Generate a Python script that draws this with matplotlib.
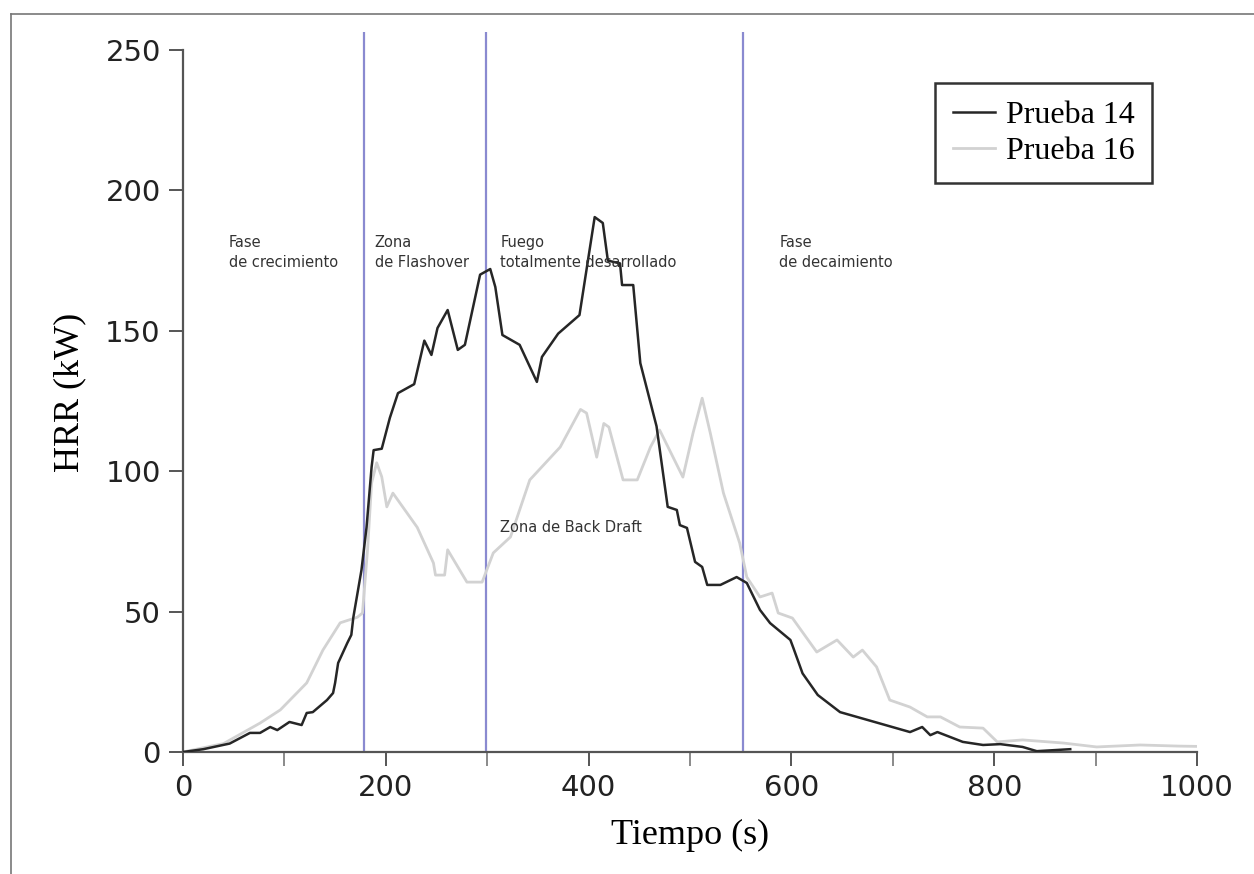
import matplotlib
matplotlib.use("Agg")
import matplotlib.pyplot as plt
from matplotlib.lines import Line2D

# ---- data ----
t14 = [0, 20, 46, 66, 76, 86, 93, 105, 117, 122, 128, 142, 148, 150, 153, 162, 166, 168, 176, 181,
       186, 188, 196, 204, 212, 228, 238, 245, 251, 261, 271, 278, 293, 303, 308, 315, 332, 349, 354,
       370, 391, 406, 414, 419, 431, 433, 444, 451, 467, 478, 487, 490, 497, 505, 512, 517, 530, 546,
       556, 569, 579, 599, 602, 611, 626, 648, 717, 729, 737, 744, 769, 789, 806, 828, 842, 875]
hrr14 = [0, 1, 3, 6.8, 6.8, 8.9, 7.8, 10.7, 9.6, 13.9, 14.2, 18.5, 21, 24.6, 31.7, 38.8, 41.7, 48, 64.8, 80,
         101.5, 107.5, 108, 119, 127.8, 131, 146.5, 141.4, 151, 157.4, 143.2, 145, 170, 172, 165.6, 148.5, 145, 131.8, 140.7,
         149, 155.6, 190.5, 188.4, 175, 174, 166.3, 166.3, 138.5, 116, 87.3, 86.2, 80.8, 79.8, 67.7, 65.9, 59.5, 59.5, 62.3,
         60.2, 50.6, 45.9, 39.9, 37, 28, 20.3, 14.2, 7.1, 8.9, 6, 7.1, 3.6, 2.5, 2.8, 1.8, 0.3, 1]

t16 = [0, 40, 76, 96, 122, 138, 155, 172, 177, 182, 186, 191, 196, 201, 207, 231, 247, 249, 258, 261,
       280, 295, 306, 323, 342, 372, 392, 398, 408, 415, 420, 434, 448, 461, 470, 493, 503, 512, 520,
       533, 549, 556, 569, 581, 587, 601, 625, 645, 661, 670, 684, 697, 717, 734, 747, 766, 789, 803,
       828, 868, 901, 944, 982, 1000]
hrr16 = [0, 3, 10.3, 15, 24.6, 36.3, 46, 48, 49.5, 72, 95.8, 103, 98, 87.3, 92.2, 80, 67.3, 63, 63, 72,
         60.5, 60.5, 70.9, 76.6, 96.9, 108.6, 122, 120.7, 105, 117, 115.7, 96.9, 96.9, 108.6, 114.7, 97.9, 113.6, 126, 113.6,
         92.2, 74.4, 62.3, 55.2, 56.6, 49.5, 47.7, 35.6, 39.9, 33.8, 36.3, 30.3, 18.5, 16, 12.5, 12.5, 8.9, 8.5, 3.6,
         4.3, 3.2, 1.8, 2.5, 2.1, 2]

phase_lines = [178.5, 299, 552]
xticks = [0, 200, 400, 600, 800, 1000]
yticks = [0, 50, 100, 150, 200, 250]

annotations = [
    (45, 184, "Fase\nde crecimiento"),
    (189, 184, "Zona\nde Flashover"),
    (313, 184, "Fuego\ntotalmente desarrollado"),
    (588, 184, "Fase\nde decaimiento"),
]
backdraft = (313, 80, "Zona de Back Draft")

# ---- figure ----
fig = plt.figure(figsize=(12.54, 8.74), dpi=100)
ax = fig.add_axes([183/1254, 1-752/874, (1197-183)/1254, (752-32)/874])

for x in phase_lines:
    ax.axvline(x, color="#8a8ad0", lw=1.6, zorder=1)

ax.plot(t16, hrr16, color="#d2d2d2", lw=2.0, label="Prueba 16", zorder=2)
ax.plot(t14, hrr14, color="#262626", lw=1.8, label="Prueba 14", zorder=3)

ax.set_xlim(0, 1000)
ax.set_ylim(0, (752-32)/2.808)

for s in ["top", "right"]:
    ax.spines[s].set_visible(False)
for s in ["left", "bottom"]:
    ax.spines[s].set_color("#555555")
    ax.spines[s].set_linewidth(1.6)
ax.spines["left"].set_bounds(0, 250)

ax.set_xticks(xticks)
ax.set_xticks([100, 300, 500, 700, 900], minor=True)
ax.set_yticks(yticks)
ax.tick_params(axis="both", which="major", direction="out", length=10, width=1.4,
               color="#555555", labelsize=21, pad=6)
ax.tick_params(axis="x", which="minor", direction="out", length=10, width=1.2, color="#777777")
for lab in ax.get_xticklabels() + ax.get_yticklabels():
    lab.set_fontfamily("DejaVu Sans")
    lab.set_color("#222222")

ax.set_xlabel("Tiempo (s)", fontfamily="Liberation Serif", fontsize=26, labelpad=12)
ax.set_ylabel("HRR (kW)", fontfamily="Liberation Serif", fontsize=26, labelpad=14)

for x, y, txt in annotations:
    ax.text(x, y, txt, fontsize=10.5, fontfamily="DejaVu Sans", color="#333333",
            va="top", ha="left", linespacing=1.4, zorder=4)
ax.text(backdraft[0], backdraft[1], backdraft[2], fontsize=10.5, fontfamily="DejaVu Sans",
        color="#333333", va="center", ha="left", zorder=4)

handles, labels = ax.get_legend_handles_labels()
leg = ax.legend(handles[::-1], labels[::-1], loc="upper right",
                bbox_to_anchor=(1152/1254, 1-83/874), bbox_transform=fig.transFigure,
                prop={"family": "Liberation Serif", "size": 23},
                frameon=True, fancybox=False, edgecolor="black", handlelength=1.3,
                handletextpad=0.35, borderpad=0.55, labelspacing=0.2, borderaxespad=0)
leg.get_frame().set_linewidth(1.8)

# figure border (top and left)
fig.add_artist(Line2D([11/1254, 1], [1-14/874, 1-14/874], transform=fig.transFigure,
                      color="#777777", lw=1.2))
fig.add_artist(Line2D([11/1254, 11/1254], [0, 1-14/874], transform=fig.transFigure,
                      color="#777777", lw=1.2))

fig.savefig("out.png", dpi=100)
